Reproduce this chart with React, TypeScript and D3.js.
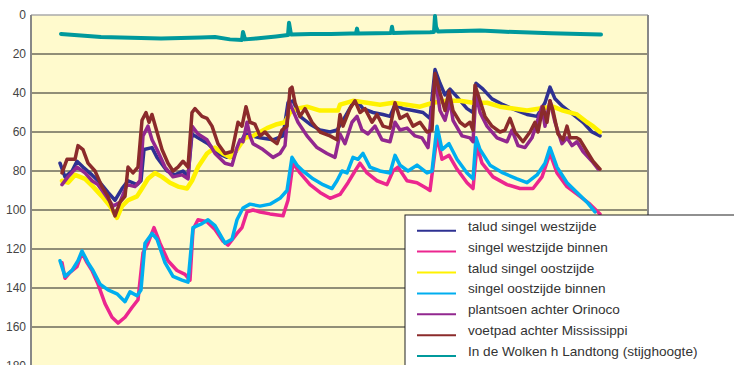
import React from 'react';
import * as d3 from 'd3';

// x = meetnummer (index of measurement), y = diepte in cm onder maaiveld
const taludWest: [number, number][] = [
  [29, 76], [34, 83], [41, 80], [46, 75], [52, 78], [61, 82], [69, 86], [77, 91], [84, 95], [91, 89],
  [97, 85], [106, 87], [110, 85], [113, 69], [121, 68], [126, 73], [136, 80], [144, 82], [152, 80], [157, 83],
  [161, 61], [167, 63], [177, 66], [187, 71], [196, 73], [202, 73], [207, 68], [214, 61], [221, 62], [229, 63],
  [242, 64], [252, 62], [257, 45], [262, 44], [269, 52], [279, 56], [289, 59], [299, 60], [306, 59], [312, 54],
  [321, 46], [326, 44], [332, 48], [342, 50], [352, 51], [359, 52], [364, 46], [372, 48], [382, 49], [392, 50],
  [399, 53], [404, 28], [409, 35], [414, 41], [419, 38], [426, 42], [436, 48], [442, 50], [445, 35], [452, 38],
  [461, 43], [472, 46], [486, 49], [496, 51], [506, 52], [514, 45], [519, 37], [524, 43], [532, 47], [542, 51],
  [552, 55], [561, 60], [569, 62],
];

const singelWestBinnen: [number, number][] = [
  [31, 127], [34, 135], [39, 132], [46, 129], [51, 122], [56, 127], [61, 131], [67, 138], [74, 148], [81, 155],
  [87, 158], [94, 155], [101, 150], [107, 146], [112, 122], [117, 117], [123, 109], [129, 117], [137, 126], [146, 131],
  [154, 133], [159, 136], [162, 110], [167, 105], [176, 106], [184, 110], [192, 116], [197, 118], [206, 112], [211, 109],
  [216, 101], [222, 100], [229, 101], [239, 102], [252, 103], [257, 95], [262, 76], [269, 81], [279, 87], [289, 91],
  [299, 94], [309, 92], [317, 86], [324, 80], [329, 76], [336, 81], [346, 85], [356, 87], [362, 80], [367, 78],
  [376, 85], [386, 86], [396, 89], [399, 90], [406, 62], [411, 74], [418, 72], [426, 79], [436, 86], [442, 89],
  [446, 67], [451, 76], [462, 83], [476, 87], [489, 89], [502, 89], [511, 83], [519, 71], [526, 81], [536, 88],
  [549, 93], [559, 97], [569, 102],
];

const taludOost: [number, number][] = [
  [31, 85], [37, 86], [44, 82], [54, 84], [62, 88], [71, 93], [79, 98], [86, 104], [91, 98], [97, 95],
  [106, 93], [111, 89], [117, 84], [124, 81], [131, 83], [139, 86], [147, 88], [156, 89], [161, 85], [167, 78],
  [176, 71], [184, 68], [192, 71], [199, 73], [206, 69], [214, 63], [222, 62], [236, 58], [246, 56], [254, 55],
  [259, 50], [266, 48], [276, 47], [289, 49], [302, 49], [307, 49], [309, 46], [322, 44], [336, 45], [349, 46],
  [362, 45], [376, 46], [389, 47], [402, 45], [416, 44], [429, 44], [442, 45], [456, 45], [469, 47], [482, 48],
  [496, 49], [509, 48], [522, 47], [532, 49], [546, 51], [556, 55], [562, 57], [569, 60],
];

const singelOostBinnen: [number, number][] = [
  [29, 126], [34, 134], [41, 131], [47, 126], [51, 121], [57, 127], [62, 131], [69, 138], [77, 141], [86, 143],
  [94, 147], [99, 142], [106, 144], [110, 141], [114, 117], [121, 112], [126, 115], [134, 127], [142, 134], [151, 136],
  [157, 137], [162, 109], [171, 107], [177, 105], [184, 108], [194, 117], [201, 115], [206, 105], [212, 99], [219, 97],
  [229, 98], [239, 97], [249, 94], [256, 90], [261, 73], [266, 77], [272, 80], [282, 84], [292, 87], [301, 89],
  [306, 85], [311, 80], [316, 81], [322, 73], [327, 74], [332, 71], [339, 78], [349, 80], [359, 81], [364, 72],
  [369, 77], [377, 80], [386, 77], [396, 81], [401, 80], [406, 57], [411, 69], [418, 66], [426, 74], [436, 81],
  [442, 84], [445, 63], [449, 69], [459, 77], [472, 81], [486, 84], [496, 86], [506, 82], [514, 76], [519, 68],
  [526, 78], [536, 86], [546, 91], [556, 96], [564, 101],
];

const plantsoenOrinoco: [number, number][] = [
  [31, 87], [37, 83], [46, 78], [54, 81], [61, 85], [67, 87], [74, 92], [82, 98], [89, 96], [96, 87],
  [104, 88], [109, 85], [112, 62], [117, 57], [121, 64], [126, 69], [134, 78], [142, 83], [151, 82], [157, 84],
  [161, 57], [167, 61], [176, 64], [184, 71], [194, 76], [201, 77], [206, 68], [209, 64], [212, 65], [216, 55],
  [219, 62], [222, 66], [232, 69], [242, 73], [249, 71], [254, 67], [258, 44], [262, 49], [267, 55], [276, 62],
  [286, 68], [296, 71], [304, 73], [309, 61], [314, 66], [321, 55], [326, 52], [331, 59], [337, 61], [344, 57],
  [351, 64], [359, 65], [364, 55], [369, 59], [376, 58], [384, 62], [391, 63], [397, 68], [404, 32], [409, 49],
  [414, 54], [419, 44], [422, 54], [431, 62], [439, 63], [442, 65], [445, 40], [449, 50], [456, 57], [466, 63],
  [476, 65], [481, 59], [487, 67], [494, 68], [501, 63], [506, 55], [511, 47], [514, 57], [519, 44], [524, 55],
  [531, 66], [536, 63], [541, 67], [546, 65], [552, 70], [561, 75], [567, 79],
];

const voetpadMississippi: [number, number][] = [
  [31, 81], [36, 74], [44, 74], [47, 67], [52, 69], [57, 76], [64, 80], [71, 88], [77, 93], [84, 103],
  [89, 96], [94, 93], [97, 78], [102, 81], [107, 78], [111, 54], [115, 50], [118, 55], [121, 51], [126, 60],
  [131, 69], [137, 76], [142, 80], [147, 78], [152, 75], [157, 78], [161, 50], [164, 48], [171, 52], [176, 53],
  [181, 57], [187, 66], [194, 71], [201, 70], [207, 55], [211, 57], [215, 47], [219, 55], [224, 56], [229, 62],
  [234, 60], [241, 64], [246, 66], [251, 59], [256, 57], [259, 38], [261, 37], [264, 45], [269, 52], [274, 48],
  [281, 55], [289, 60], [299, 62], [306, 64], [309, 51], [312, 57], [319, 48], [324, 44], [329, 50], [334, 48],
  [341, 55], [346, 51], [352, 57], [359, 58], [364, 45], [369, 53], [376, 51], [382, 57], [389, 55], [396, 60],
  [401, 59], [404, 30], [409, 40], [414, 49], [418, 39], [422, 49], [429, 55], [434, 57], [439, 55], [442, 59],
  [444, 36], [449, 44], [454, 52], [461, 57], [469, 60], [474, 59], [479, 53], [484, 60], [492, 65], [499, 60],
  [504, 55], [507, 60], [512, 47], [516, 55], [519, 44], [522, 49], [527, 61], [532, 64], [536, 57], [539, 63],
  [546, 63], [549, 64], [556, 70], [562, 75], [569, 79],
];

const wolkenLandtong: [number, number][] = [
  [30, 9.7], [50, 10.5], [70, 11.3], [90, 11.5], [110, 11.8], [130, 12], [150, 11.8], [170, 11.5], [184, 11.3], [199, 12.5],
  [211, 12.8], [212, 8.7], [214, 12.5], [225, 12], [245, 11], [257, 10.3], [258, 4], [260, 10], [280, 9.8], [300, 9.8],
  [320, 9.5], [325, 9.5], [326, 7], [327, 9.5], [345, 9.3], [360, 9.2], [361, 6], [362, 9.2], [380, 9], [399, 8.8],
  [403, 8.7], [404, 0.5], [405, 6], [407, 8.5], [415, 8.3], [430, 8.2], [449, 8], [470, 8.5], [499, 9], [520, 9.3],
  [549, 9.8], [570, 10],
];

const seriesNames = [
  'talud singel westzijde',
  'singel westzijde binnen',
  'talud singel oostzijde',
  'singel oostzijde binnen',
  'plantsoen achter Orinoco',
  'voetpad achter Mississippi',
  'In de Wolken h Landtong (stijghoogte)',
];
const seriesData = [taludWest, singelWestBinnen, taludOost, singelOostBinnen, plantsoenOrinoco, voetpadMississippi, wolkenLandtong];
const seriesColors = ['#2e3192', '#ec268f', '#fff200', '#00aeef', '#92278f', '#8b2b2b', '#00999c'];
const seriesWidths = [3.5, 3.5, 4.5, 3.5, 3.5, 3.5, 4];

const yTicks = [0, 20, 40, 60, 80, 100, 120, 140, 160, 180];

const W = 734;
const H = 365;

export default function App() {
  const x = d3.scaleLinear().domain([0, 617]).range([31, 648]);
  const y = d3.scaleLinear().domain([0, 180]).range([15, 366]);
  const line = d3.line<[number, number]>().x(d => x(d[0])).y(d => y(d[1]));

  const lg = { x: 405, y: 215, row: 20.9 };

  return (
    <svg width={W} height={H} style={{ position: 'absolute', left: 0, top: 0 }}
      fontFamily="'Liberation Sans', Arial, sans-serif">
      <rect x={x(0)} y={y(0)} width={x(617) - x(0)} height={y(180) - y(0)} fill="#fffacd" />
      {yTicks.slice(1).map(t => (
        <line key={t} x1={x(0)} x2={x(617)} y1={y(t)} y2={y(t)} stroke="#222" strokeWidth={1} />
      ))}
      <line x1={x(0)} x2={x(617)} y1={y(0)} y2={y(0)} stroke="#aaa" strokeWidth={1.5} />
      <line x1={x(617)} x2={x(617)} y1={y(0)} y2={H} stroke="#888" strokeWidth={2} />
      <line x1={x(0)} x2={x(0)} y1={y(0)} y2={H} stroke="#888" strokeWidth={2} />
      {yTicks.map(t => (
        <text key={t} x={26} y={y(t)} dy="0.35em" textAnchor="end" fontSize={12} fill="#444">{t}</text>
      ))}
      {seriesData.map((d, i) => (
        <path key={i} d={line(d) ?? ''} fill="none" stroke={seriesColors[i]} strokeWidth={seriesWidths[i]}
          strokeLinejoin="round" strokeLinecap="round" />
      ))}
      <rect x={lg.x} y={lg.y} width={W} height={H} fill="#fff" stroke="#222" strokeWidth={1} />
      {seriesNames.map((n, i) => {
        const ly = lg.y + 15.7 + i * lg.row;
        return (
          <g key={n}>
            <line x1={417} x2={456} y1={ly} y2={ly} stroke={seriesColors[i]} strokeWidth={2} />
            <text x={468} y={ly} fontSize={13.6} fill="#333">{n}</text>
          </g>
        );
      })}
    </svg>
  );
}
